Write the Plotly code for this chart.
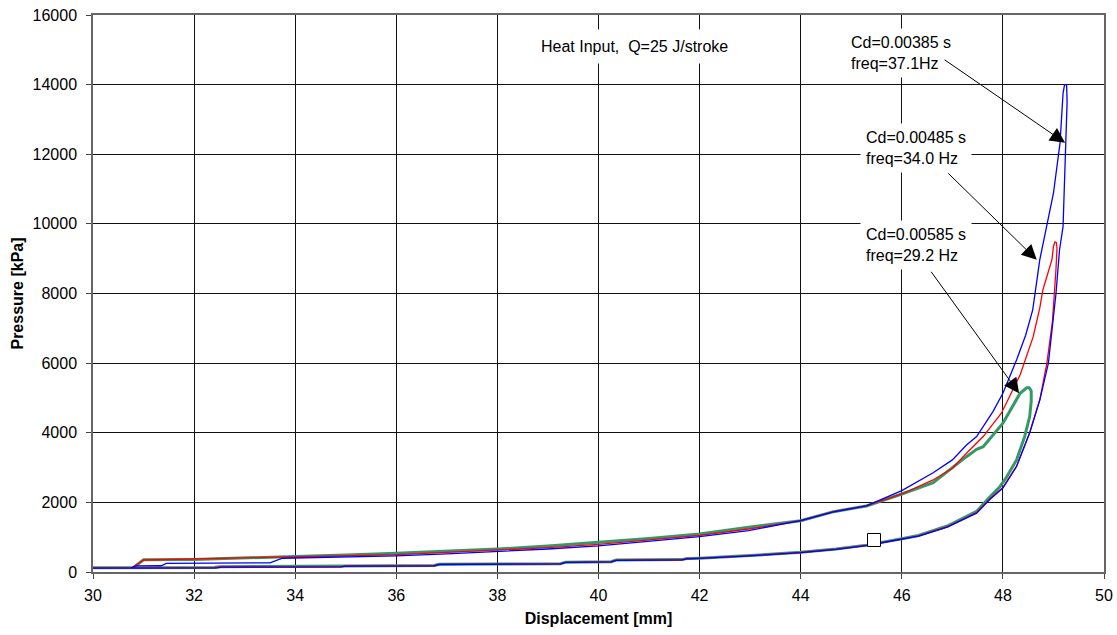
import plotly.graph_objects as go

# ---------------- data ----------------
# Cd = 0.00385 s, freq = 37.1 Hz  (blue)
blue_x = [30.00, 30.75, 32.45, 32.55, 34.90, 35.00, 36.75, 36.85, 38.00, 39.25, 39.35, 40.25, 40.35,
          41.65, 41.75, 42.00, 43.00, 44.00, 44.70, 45.30, 45.60, 46.00, 46.33, 46.90, 47.48, 47.74,
          48.00, 48.27, 48.53, 48.73, 48.90, 49.05, 49.12, 49.19, 49.23, 49.25, 49.27, 49.26,
          49.22, 49.19, 49.13, 49.00, 48.87, 48.73, 48.59, 48.45, 48.27, 48.00, 47.80, 47.48, 47.28,
          47.00, 46.62, 46.00, 45.30, 44.65, 44.00, 42.97, 42.00, 41.00, 40.00, 39.00, 38.00, 37.00,
          36.00, 35.00, 34.00, 33.75, 33.50, 31.45, 31.35, 30.85, 30.75]
blue_y = [110, 110, 118, 140, 148, 170, 178, 215, 222, 232, 275, 290, 335,
          350, 378, 390, 465, 555, 650, 760, 840, 940, 1030, 1290, 1690, 2080,
          2410, 3030, 4000, 4940, 6000, 8000, 9250, 9920, 11500, 12320, 13500, 14000,
          14000, 13750, 12320, 10880, 9920, 8970, 7530, 6800, 6090, 5135, 4600, 3890, 3650,
          3220, 2850, 2336, 1900, 1730, 1474, 1190, 1015, 880, 750, 660, 585, 520,
          465, 435, 405, 395, 262, 250, 180, 175, 110]

# Cd = 0.00485 s, freq = 34.0 Hz  (red)
red_x = [30.00, 30.75, 32.40, 32.50, 34.90, 35.00, 36.75, 36.85, 38.00, 39.25, 39.35, 40.25, 40.35,
         41.65, 41.75, 42.00, 43.00, 44.00, 44.70, 45.30, 46.00, 46.33, 46.90, 47.48, 47.74, 48.00,
         48.27, 48.53, 48.73, 48.87, 48.98, 49.02, 49.05, 49.07, 49.06,
         49.03, 49.00, 48.97, 48.93, 48.87, 48.79, 48.73, 48.60, 48.34, 47.97, 47.61, 47.28, 47.00,
         46.62, 46.00, 45.30, 44.65, 44.00, 42.97, 42.00, 41.00, 40.00, 39.00, 38.00, 37.00, 36.00,
         35.00, 34.00, 33.00, 32.00, 31.00, 30.77]
red_y = [120, 120, 125, 145, 150, 172, 180, 218, 225, 235, 278, 292, 338,
         352, 380, 392, 468, 560, 655, 765, 945, 1040, 1300, 1710, 2100, 2430,
         3040, 4000, 4950, 6000, 7200, 8000, 8700, 9300, 9460,
         9480, 9350, 8970, 8800, 8490, 8095, 7590, 6760, 5660, 4560, 3890, 3410, 2980,
         2644, 2241, 1897, 1733, 1474, 1235, 1050, 920, 795, 700, 622, 565, 500,
         470, 440, 400, 365, 345, 120]

# Cd = 0.00585 s, freq = 29.2 Hz  (green)
green_x = [30.00, 30.75, 32.40, 32.50, 34.90, 35.00, 36.75, 36.85, 38.00, 39.25, 39.35, 40.25, 40.35,
           41.65, 41.75, 42.00, 43.00, 44.00, 44.70, 45.30, 46.00, 46.33, 46.90, 47.48, 47.74, 47.94,
           48.07, 48.27, 48.43, 48.53, 48.56, 48.56, 48.52,
           48.47, 48.34, 48.00, 47.61, 47.48, 47.28, 46.95, 46.62, 46.00, 45.30, 44.65, 44.00, 42.97,
           42.00, 41.00, 40.00, 39.00, 38.00, 37.00, 36.00, 35.00, 34.00, 33.00, 32.00, 31.00, 30.80]
green_y = [125, 125, 130, 150, 155, 175, 185, 222, 230, 240, 282, 295, 342,
           356, 385, 396, 472, 565, 662, 772, 955, 1050, 1320, 1740, 2155, 2450,
           2720, 3218, 3888, 4465, 4900, 5200, 5290,
           5290, 5135, 4273, 3600, 3526, 3313, 2931, 2566, 2241, 1897, 1733, 1474, 1284,
           1092, 960, 843, 745, 660, 590, 537, 490, 450, 410, 362, 350, 125]

marker_x = [45.45]
marker_y = [920]

x_ticks = [30, 32, 34, 36, 38, 40, 42, 44, 46, 48, 50]
y_ticks = [0, 2000, 4000, 6000, 8000, 10000, 12000, 14000, 16000]

title_text = "Heat Input,  Q=25 J/stroke"
labels = ["Cd=0.00385 s<br>freq=37.1Hz",
          "Cd=0.00485 s<br>freq=34.0 Hz",
          "Cd=0.00585 s<br>freq=29.2 Hz"]

# ---------------- figure ----------------
FONT = "Liberation Sans, Arial, sans-serif"
FS = 16

fig = go.Figure()
fig.add_trace(go.Scatter(x=green_x, y=green_y, mode="lines",
                         line=dict(color="#339966", width=3), hoverinfo="skip"))
fig.add_trace(go.Scatter(x=red_x, y=red_y, mode="lines",
                         line=dict(color="#FF0000", width=1.3), hoverinfo="skip"))
fig.add_trace(go.Scatter(x=blue_x, y=blue_y, mode="lines",
                         line=dict(color="#0000FF", width=1.3), hoverinfo="skip"))
fig.add_trace(go.Scatter(x=marker_x, y=marker_y, mode="markers",
                         marker=dict(symbol="square", size=13, color="white",
                                     line=dict(color="black", width=1)), hoverinfo="skip"))

ann = []
# text boxes
ann.append(dict(x=40.72, y=15086, xref="x", yref="y", text=title_text, showarrow=False,
                font=dict(family=FONT, size=FS, color="black"),
                bgcolor="white", borderpad=8, xanchor="center", yanchor="middle"))
text_pos = [(44.88, 14900), (45.17, 12170), (45.17, 9400)]
for (tx, ty), lab in zip(text_pos, labels):
    ann.append(dict(x=tx, y=ty, xref="x", yref="y", text=lab, showarrow=False, align="left",
                    font=dict(family=FONT, size=FS, color="black"),
                    bgcolor="white", borderpad=5, xanchor="left", yanchor="middle"))
# arrows (tip in data units, tail offset in pixels)
arrows = [(49.23, 12330, -122, -84), (48.67, 8966, -90, -88), (48.32, 5135, -89, -123)]
for (ax_, ay_, dx, dy) in arrows:
    ann.append(dict(x=ax_, y=ay_, xref="x", yref="y", text="", showarrow=True,
                    ax=dx, ay=dy, axref="pixel", ayref="pixel",
                    arrowhead=2, arrowsize=3, arrowwidth=1, arrowcolor="black", standoff=0))

fig.update_layout(
    width=1117, height=635,
    margin=dict(l=93, r=13, t=15, b=63, pad=0),
    paper_bgcolor="white", plot_bgcolor="white",
    showlegend=False,
    font=dict(family=FONT, size=FS, color="black"),
    annotations=ann,
)
fig.update_xaxes(
    range=[30, 50], tickvals=x_ticks, ticktext=[str(v) for v in x_ticks],
    showgrid=True, gridcolor="#111111", gridwidth=1,
    showline=True, linecolor="#666666", linewidth=1.5, mirror=True,
    ticks="outside", ticklen=5, tickcolor="#444444",
    tickfont=dict(family=FONT, size=FS), ticklabelstandoff=3,
    zeroline=False, automargin=False,
    title=dict(text="<b>Displacement [mm]</b>", font=dict(family=FONT, size=FS), standoff=10),
)
fig.update_yaxes(
    range=[0, 16000], tickvals=y_ticks, ticktext=[str(v) for v in y_ticks],
    showgrid=True, gridcolor="#111111", gridwidth=1,
    showline=True, linecolor="#666666", linewidth=1.5, mirror=True,
    ticks="outside", ticklen=5, tickcolor="#444444",
    tickfont=dict(family=FONT, size=FS), ticklabelstandoff=6,
    zeroline=False, automargin=False,
    title=dict(text="<b>Pressure [kPa]</b>", font=dict(family=FONT, size=FS), standoff=5),
)

fig.write_html("out.html", config={"displayModeBar": False},
               post_script="document.body.style.margin='0';document.body.style.overflow='hidden';")
